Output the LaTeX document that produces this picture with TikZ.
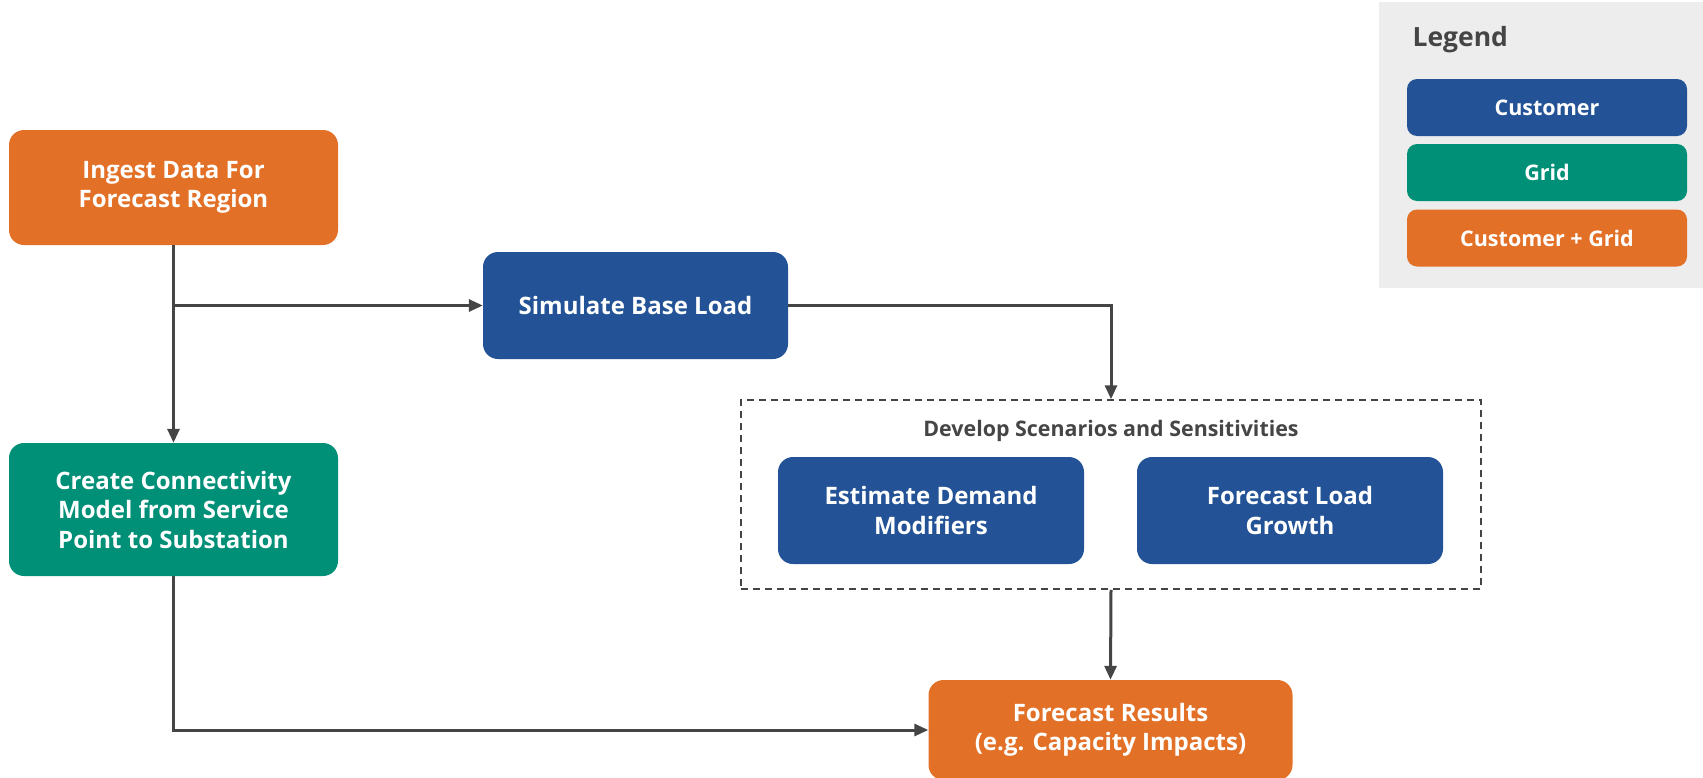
\documentclass[tikz,border=0pt]{standalone}
\usepackage{fontspec}
\setmainfont{Open Sans}
\usetikzlibrary{arrows.meta,positioning}
\definecolor{cOrange}{HTML}{E37027}
\definecolor{cBlue}{HTML}{235396}
\definecolor{cGreen}{HTML}{008F77}
\definecolor{cLine}{HTML}{454545}
\definecolor{cPanel}{HTML}{EDEDED}
\definecolor{cTitle}{HTML}{454545}
\begin{document}
\begin{tikzpicture}[x=1pt,y=-1pt,
  box/.style={rounded corners=15pt, text=white, align=center, inner sep=0pt,
    font=\fontsize{24}{29.5}\selectfont\bfseries},
  legbox/.style={rounded corners=10pt, text=white, align=center, inner sep=0pt,
    minimum width=280pt, minimum height=57pt, font=\fontsize{21.5}{24}\selectfont\bfseries},
  conn/.style={draw=cLine, line width=3pt, -{Triangle[length=14pt,width=12pt]}},
  plain/.style={draw=cLine, line width=3pt}
]
\useasboundingbox (0,0) rectangle (1703,777);
% legend panel
\fill[cPanel] (1379,2) rectangle (1703,288);
\node[anchor=west, text=cTitle, font=\fontsize{26.5}{30}\selectfont\bfseries] (legtitle) at (1409,40) {Legend};
\node[legbox, fill=cBlue] (lcust) at (1547,107.5) {Customer};
\node[legbox, fill=cGreen] (lgrid) at (1547,172.5) {Grid};
\node[legbox, fill=cOrange] (lboth) at (1547,238) {Customer + Grid};
% main nodes
\node[box, fill=cOrange, minimum width=329pt, minimum height=115pt] (ingest) at (173.5,187.5) {Ingest Data For\\Forecast Region};
\node[box, fill=cGreen, minimum width=329pt, minimum height=133pt] (create) at (173.5,509.5) {Create Connectivity\\Model from Service\\Point to Substation};
\node[box, fill=cBlue, minimum width=305pt, minimum height=107pt] (sim) at (635.5,305.5) {Simulate Base Load};
\node[draw=cLine, dashed, line width=1.5pt, dash pattern=on 7pt off 5pt, minimum width=740pt, minimum height=189pt, inner sep=0pt] (dbox) at (1111,494.5) {};
\node[text=cTitle, font=\fontsize{21.4}{24}\selectfont\bfseries] (dtitle) at (1111,431) {Develop Scenarios and Sensitivities};
\node[box, fill=cBlue, minimum width=306pt, minimum height=107pt] (est) at (931,510.5) {Estimate Demand\\Modifiers};
\node[box, fill=cBlue, minimum width=306pt, minimum height=107pt] (flg) at (1290,510.5) {Forecast Load\\Growth};
\node[box, fill=cOrange, minimum width=364pt, minimum height=100pt] (res) at (1110.5,730) {Forecast Results\\(e.g. Capacity Impacts)};
% connectors
\coordinate (br) at (ingest.south |- sim.west);
\draw[conn] (ingest.south) -- (create.north);
\draw[conn] (br) -- (sim.west);
\draw[conn] (sim.east) -| (dbox.north);
\draw[conn] (dbox.south) -- (res.north);
\draw[conn] (create.south) |- (res.west);
\end{tikzpicture}
\end{document}
